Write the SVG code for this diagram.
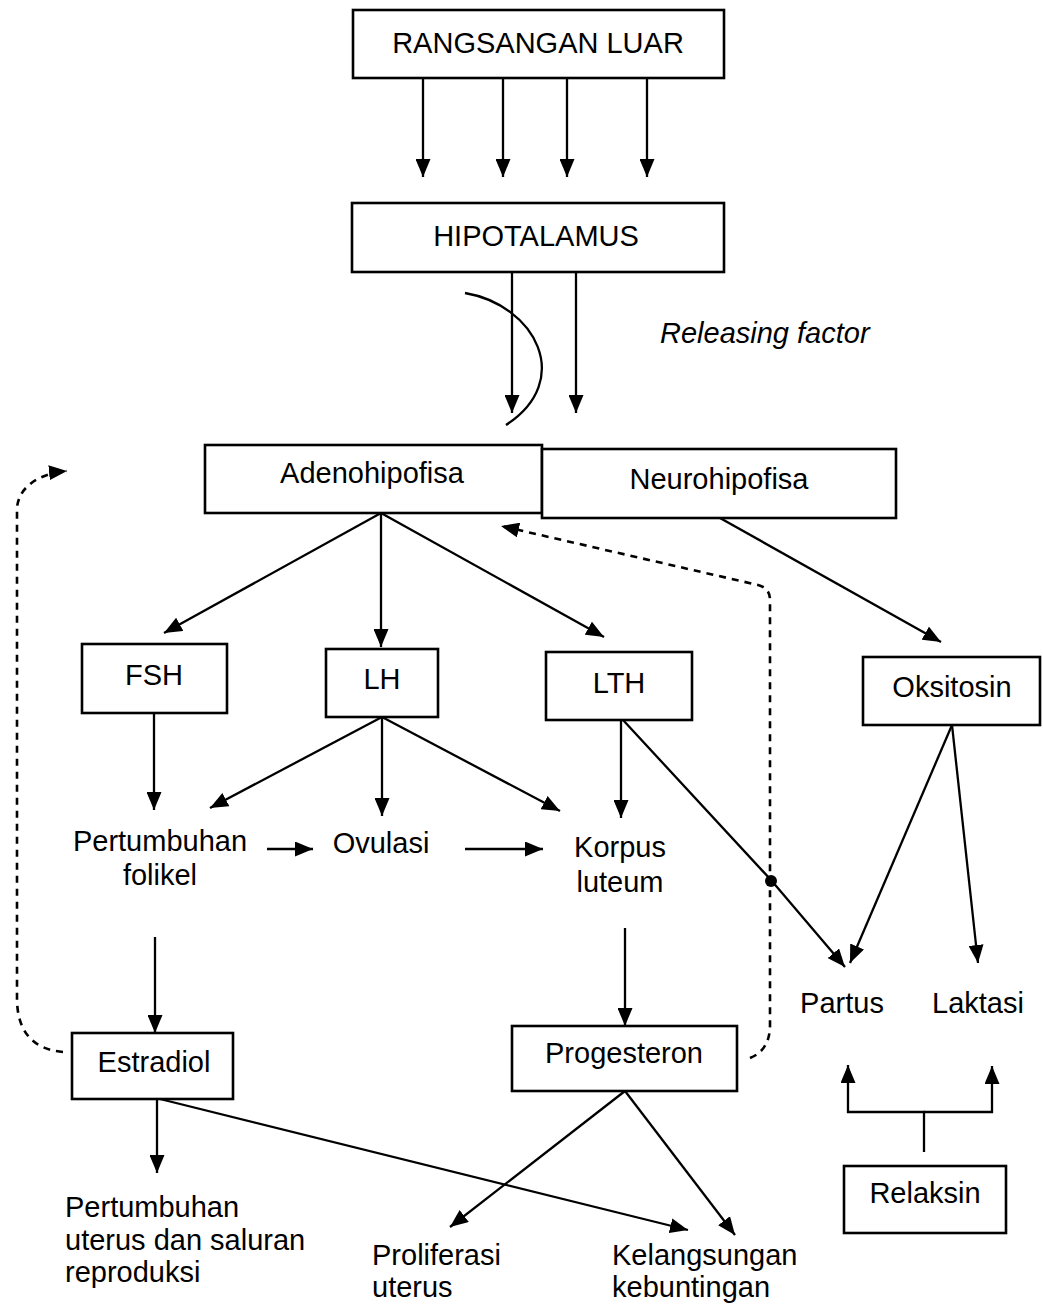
<svg xmlns="http://www.w3.org/2000/svg" width="1043" height="1310" viewBox="0 0 1043 1310">
<defs>
<marker id="ah" viewBox="0 0 18 15" refX="18" refY="7.5" markerWidth="18" markerHeight="15" markerUnits="userSpaceOnUse" orient="auto">
<path d="M0,0 L18,7.5 L0,15 z" fill="#000"/>
</marker>
<style>
.box{fill:#fff;stroke:#000;stroke-width:2.6}
.t{font-family:"Liberation Sans",Arial,sans-serif;font-size:29px;fill:#000}
.c{text-anchor:middle}
.ln{fill:none;stroke:#000;stroke-width:2.3;marker-end:url(#ah)}
.pl{fill:none;stroke:#000;stroke-width:2.3}
.ds{fill:none;stroke:#000;stroke-width:2.6;stroke-dasharray:7 6;marker-end:url(#ah)}
</style>
</defs>
<rect width="1043" height="1310" fill="#fff"/>

<g id="connectors">
<line class="ln" x1="423" y1="78" x2="423" y2="177"/>
<line class="ln" x1="503" y1="78" x2="503" y2="177"/>
<line class="ln" x1="567" y1="78" x2="567" y2="177"/>
<line class="ln" x1="647" y1="78" x2="647" y2="177"/>
<line class="ln" x1="512" y1="272" x2="512" y2="413"/>
<line class="ln" x1="576" y1="272" x2="576" y2="413"/>
<path class="pl" stroke-width="1.5" d="M465,293 C535,305 575,380 506,425"/>
<line class="ln" x1="381" y1="513" x2="164" y2="633"/>
<line class="ln" x1="381" y1="513" x2="381" y2="647"/>
<line class="ln" x1="381" y1="513" x2="604" y2="637"/>
<line class="ln" x1="720" y1="518" x2="941" y2="642"/>
<line class="ln" x1="154" y1="713" x2="154" y2="810"/>
<line class="ln" x1="382" y1="717" x2="210" y2="808"/>
<line class="ln" x1="382" y1="717" x2="382" y2="816"/>
<line class="ln" x1="382" y1="717" x2="560" y2="811"/>
<line class="ln" x1="267" y1="849" x2="313" y2="849"/>
<line class="ln" x1="465" y1="849" x2="543" y2="849"/>
<line class="ln" x1="621" y1="720" x2="621" y2="818"/>
<polyline class="ln" points="623,720 771,880 845,967"/>
<circle cx="771" cy="881" r="6" fill="#000"/>
<line class="ln" x1="952" y1="725" x2="850" y2="963"/>
<line class="ln" x1="952" y1="725" x2="978" y2="963"/>
<line class="ln" x1="155" y1="937" x2="155" y2="1033"/>
<line class="ln" x1="625" y1="928" x2="625" y2="1026"/>
<line class="ln" x1="157" y1="1099" x2="157" y2="1173"/>
<line class="ln" x1="160" y1="1099" x2="688" y2="1230"/>
<line class="ln" x1="625" y1="1091" x2="450" y2="1227"/>
<line class="ln" x1="625" y1="1091" x2="735" y2="1235"/>
<polyline class="ln" points="924,1152 924,1112 848,1112 848,1065"/>
<polyline class="ln" points="924,1112 992,1112 992,1066"/>
<path class="ds" d="M63,1052 Q18,1048 17,1000 L17,510 C17,490 35,474 67,471"/>
<path class="ds" d="M750,1058 Q770,1050 770,1025 L770,600 Q770,588 758,585 L501,526"/>
</g>

<g id="rangsangan"><rect class="box" x="353" y="10" width="371" height="68"/><text class="t c" x="538" y="53">RANGSANGAN LUAR</text></g>
<g id="hipotalamus"><rect class="box" x="352" y="203" width="372" height="69"/><text class="t c" x="536" y="246">HIPOTALAMUS</text></g>
<g id="releasing"><text class="t" x="660" y="343" font-style="italic">Releasing factor</text></g>
<g id="adenohipofisa"><rect class="box" x="205" y="445" width="337" height="68"/><text class="t c" x="372" y="483">Adenohipofisa</text></g>
<g id="neurohipofisa"><rect class="box" x="542" y="449" width="354" height="69"/><text class="t c" x="719" y="489">Neurohipofisa</text></g>
<g id="fsh"><rect class="box" x="82" y="644" width="145" height="69"/><text class="t c" x="154" y="685">FSH</text></g>
<g id="lh"><rect class="box" x="326" y="649" width="112" height="68"/><text class="t c" x="382" y="689">LH</text></g>
<g id="lth"><rect class="box" x="546" y="652" width="146" height="68"/><text class="t c" x="619" y="693">LTH</text></g>
<g id="oksitosin"><rect class="box" x="863" y="657" width="177" height="68"/><text class="t c" x="952" y="697">Oksitosin</text></g>
<g id="folikel"><text class="t c" x="160" y="851">Pertumbuhan</text><text class="t c" x="160" y="885">folikel</text></g>
<g id="ovulasi"><text class="t c" x="381" y="853">Ovulasi</text></g>
<g id="korpus"><text class="t c" x="620" y="857">Korpus</text><text class="t c" x="620" y="892">luteum</text></g>
<g id="partus"><text class="t c" x="842" y="1013">Partus</text></g>
<g id="laktasi"><text class="t c" x="978" y="1013">Laktasi</text></g>
<g id="estradiol"><rect class="box" x="72" y="1033" width="161" height="66"/><text class="t c" x="154" y="1072">Estradiol</text></g>
<g id="progesteron"><rect class="box" x="512" y="1026" width="225" height="65"/><text class="t c" x="624" y="1063">Progesteron</text></g>
<g id="relaksin"><rect class="box" x="844" y="1166" width="162" height="67"/><text class="t c" x="925" y="1203">Relaksin</text></g>
<g id="uterus"><text class="t" x="65" y="1217">Pertumbuhan</text><text class="t" x="65" y="1250">uterus dan saluran</text><text class="t" x="65" y="1282">reproduksi</text></g>
<g id="proliferasi"><text class="t" x="372" y="1265">Proliferasi</text><text class="t" x="372" y="1297">uterus</text></g>
<g id="kelangsungan"><text class="t" x="612" y="1265">Kelangsungan</text><text class="t" x="612" y="1297">kebuntingan</text></g>
</svg>
